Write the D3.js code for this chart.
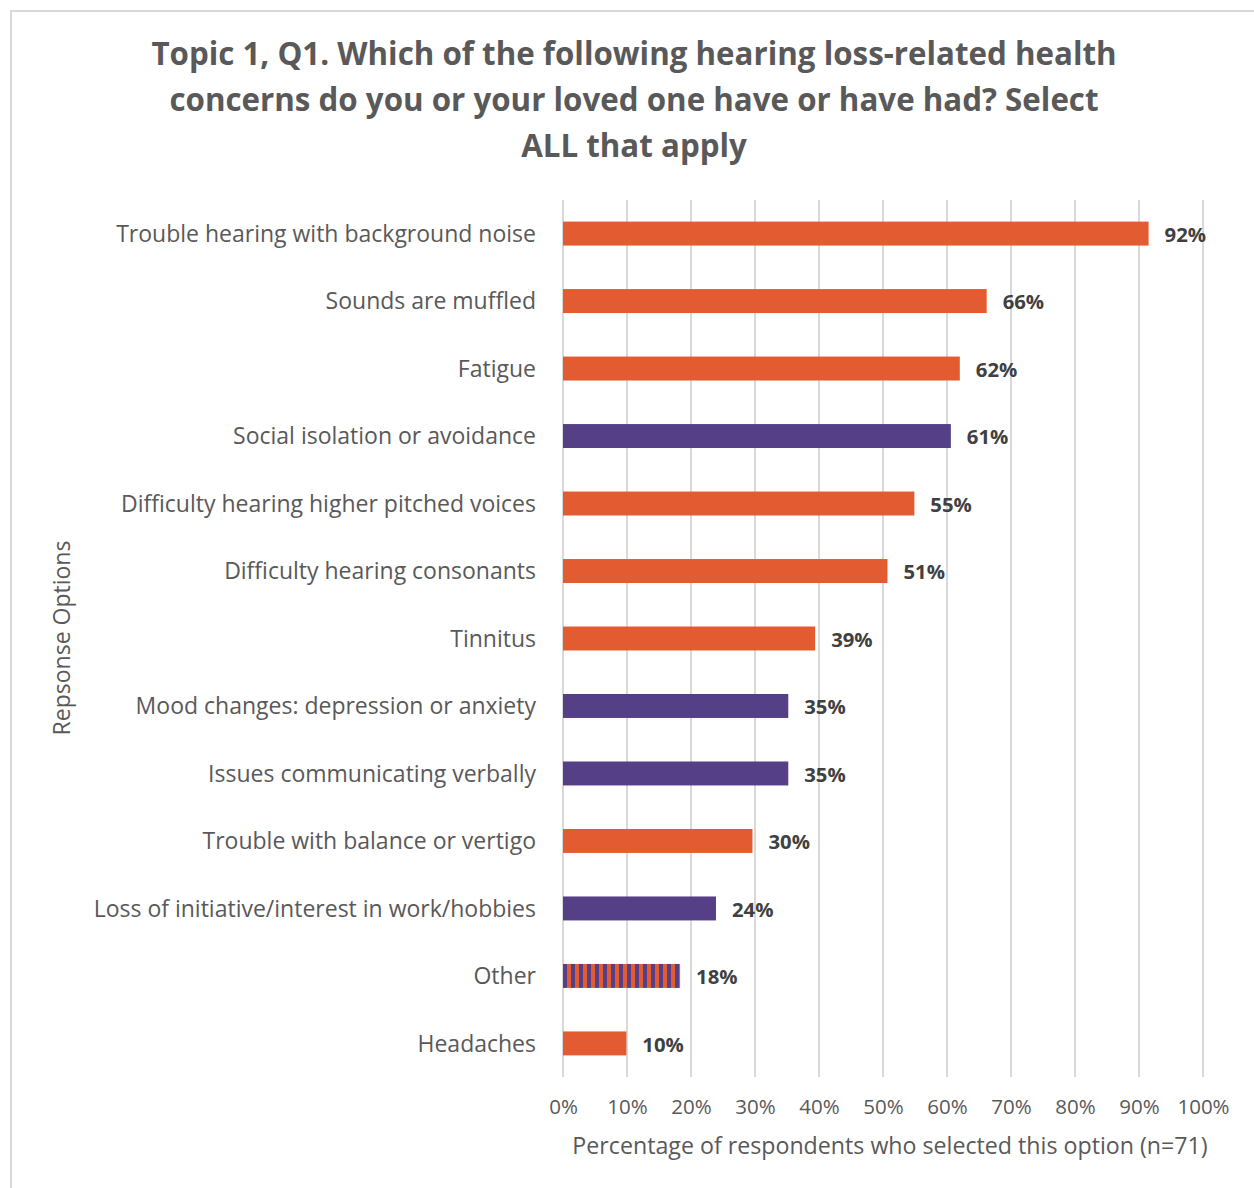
<!DOCTYPE html>
<html><head><meta charset="utf-8">
<script src="https://cdn.jsdelivr.net/npm/d3@7"></script>
<style>html,body{margin:0;padding:0;background:#fff;} svg{display:block;}</style>
</head><body>
<script>
const categories = ["Trouble hearing with background noise","Sounds are muffled","Fatigue","Social isolation or avoidance","Difficulty hearing higher pitched voices","Difficulty hearing consonants","Tinnitus","Mood changes: depression or anxiety","Issues communicating verbally","Trouble with balance or vertigo","Loss of initiative/interest in work/hobbies","Other","Headaches"];
const values = [91.5, 66.2, 62.0, 60.6, 54.9, 50.7, 39.4, 35.2, 35.2, 29.6, 23.9, 18.3, 9.9];
const groups = ["a","a","a","b","a","a","a","b","b","a","b","ab","a"];
const tickValues = [0,10,20,30,40,50,60,70,80,90,100];
const titleLines = ["Topic 1, Q1. Which of the following hearing loss-related health","concerns do you or your loved one have or have had? Select","ALL that apply"];
const xTitle = "Percentage of respondents who selected this option (n=71)";
const yTitle = "Repsonse Options";

const W=1254,H=1188;
const orange="#E35B30", purple="#553F86";
const font="'Open Sans', Lato, sans-serif";
const svg=d3.select("body").append("svg").attr("width",W).attr("height",H);
svg.append("rect").attr("x",11).attr("y",11).attr("width",W).attr("height",H).attr("fill","#fff").attr("stroke","#d9d9d9").attr("stroke-width",2);

const defs=svg.append("defs");
const x=d3.scaleLinear().domain([0,100]).range([563,1203]);
const y=d3.scaleBand().domain(categories).range([200,1077]).paddingInner(0.645).paddingOuter(0.32);

const pat=defs.append("pattern").attr("id","stripes").attr("patternUnits","userSpaceOnUse").attr("x",x(0)).attr("y",0).attr("width",8).attr("height",8);
pat.append("rect").attr("width",4).attr("height",8).attr("fill",purple);
pat.append("rect").attr("x",4).attr("width",4).attr("height",8).attr("fill",orange);

// title
svg.append("g").selectAll("text").data(titleLines).join("text")
  .attr("x",634).attr("y",(d,i)=>65+i*46).attr("text-anchor","middle")
  .attr("font-family",font).attr("font-weight","bold").attr("font-size",31.3).attr("fill","#595959").text(d=>d);

// gridlines
svg.append("g").selectAll("line").data(tickValues).join("line")
  .attr("x1",d=>x(d)).attr("x2",d=>x(d)).attr("y1",200).attr("y2",1077)
  .attr("stroke","#d9d9d9").attr("stroke-width",2);

// x axis ticks labels
const xa=svg.append("g").attr("transform","translate(0,1099)")
  .call(d3.axisBottom(x).tickValues(tickValues).tickFormat(d=>d+"%").tickSize(0).tickPadding(0));
xa.select(".domain").remove();
xa.selectAll("text").attr("font-family",font).attr("font-size",20.5).attr("fill","#595959").attr("dy","0.71em");

// y axis labels
const ya=svg.append("g").attr("transform","translate(536,1)")
  .call(d3.axisLeft(y).tickSize(0).tickPadding(0));
ya.select(".domain").remove();
ya.selectAll("text").attr("font-family",font).attr("font-size",23).attr("fill","#595959");

// bars
svg.append("g").selectAll("rect").data(categories).join("rect")
  .attr("x",x(0)).attr("y",d=>y(d)).attr("height",y.bandwidth())
  .attr("width",(d,i)=>x(values[i])-x(0))
  .attr("fill",(d,i)=>groups[i]==="a"?orange:groups[i]==="b"?purple:"url(#stripes)");

// value labels
svg.append("g").selectAll("text").data(categories).join("text")
  .attr("x",(d,i)=>x(values[i])+16).attr("y",d=>y(d)+y.bandwidth()/2+1).attr("dy","0.36em")
  .attr("font-family",font).attr("font-weight","bold").attr("font-size",20.3).attr("fill","#404040")
  .text((d,i)=>Math.round(values[i])+"%");

// axis titles
svg.append("text").attr("x",890).attr("y",1154).attr("text-anchor","middle")
  .attr("font-family",font).attr("font-size",23.2).attr("fill","#595959").text(xTitle);
svg.append("text").attr("transform","translate(70,638) rotate(-90)").attr("text-anchor","middle")
  .attr("font-family",font).attr("font-size",23).attr("fill","#595959").text(yTitle);
</script>
</body></html>
